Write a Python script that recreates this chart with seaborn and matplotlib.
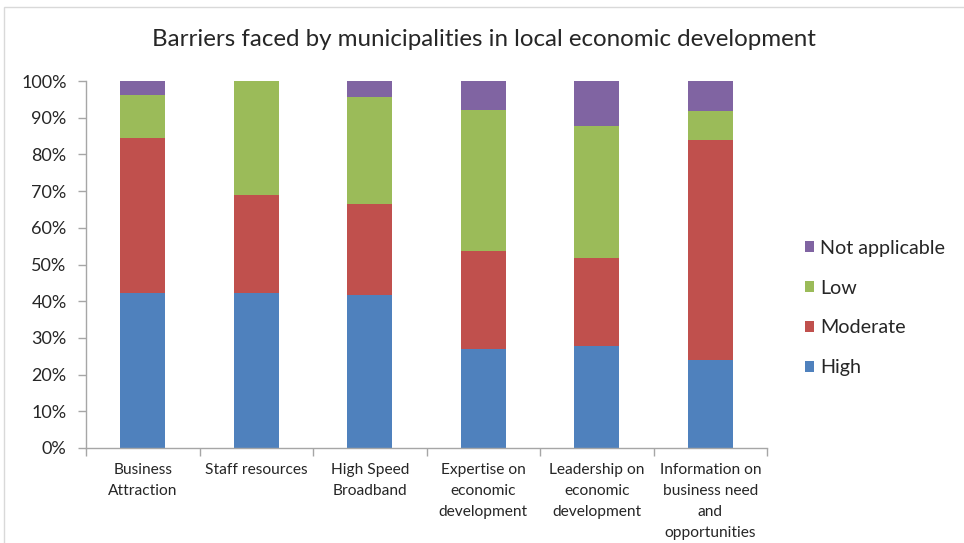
import numpy as np
import pandas as pd
import matplotlib
matplotlib.use("Agg")
import matplotlib.pyplot as plt
from matplotlib.patches import Patch, Rectangle
from matplotlib.ticker import PercentFormatter, FixedLocator
import seaborn as sns

categories = ["Business\nAttraction", "Staff resources", "High Speed\nBroadband",
              "Expertise on\neconomic\ndevelopment", "Leadership on\neconomic\ndevelopment",
              "Information on\nbusiness need\nand\nopportunities"]
high = [42.3, 42.3, 41.6, 26.9, 27.9, 24.0]
moderate = [42.1, 26.6, 24.8, 26.8, 23.8, 59.9]
low = [11.7, 31.1, 29.3, 38.4, 36.1, 7.9]
not_applicable = [3.9, 0.0, 4.3, 7.9, 12.2, 8.2]
series_names = ["High", "Moderate", "Low", "Not applicable"]
colors = ["#4F81BD", "#C0504D", "#9BBB59", "#8064A2"]
title = "Barriers faced by municipalities in local economic development"

sns.set_theme(style="white")
plt.rcParams["font.family"] = ["Lato", "DejaVu Sans"]

fig = plt.figure(figsize=(9.64, 5.43), dpi=100)
W, H = 964, 543
ax = fig.add_axes([86 / W, 1 - 448 / H, (767 - 86) / W, (448 - 81) / H])

series = [high, moderate, low, not_applicable]
cum = np.cumsum(np.array(series), axis=0)
df = pd.DataFrame({"category": categories})
# draw tallest cumulative first so lower segments overlay
for i in range(len(series) - 1, -1, -1):
    df["val"] = cum[i]
    sns.barplot(data=df, x="category", y="val", color=colors[i], saturation=1,
                width=0.4, linewidth=0, ax=ax, order=categories)

ax.set_xlim(-0.5, len(categories) - 0.5)
ax.set_ylim(0, 100)
ax.set_xlabel("")
ax.set_ylabel("")
ax.yaxis.set_major_locator(FixedLocator(np.arange(0, 101, 10)))
ax.yaxis.set_major_formatter(PercentFormatter(decimals=0))
for s in ["top", "right"]:
    ax.spines[s].set_visible(False)
for s in ["left", "bottom"]:
    ax.spines[s].set_color("#A6A6A6")
    ax.spines[s].set_linewidth(1)

ax.tick_params(axis="y", which="major", left=True, length=6, width=1, color="#A6A6A6",
               labelsize=13, labelcolor="#262626", pad=8)
ax.set_xticks(range(len(categories)))
ax.set_xticklabels(categories, fontsize=11.2, color="#262626", linespacing=1.64,
                   va="top", ha="center")
ax.tick_params(axis="x", which="major", length=0, pad=11)
ax.xaxis.set_minor_locator(FixedLocator(np.arange(-0.5, len(categories), 1.0)))
ax.tick_params(axis="x", which="minor", bottom=True, length=6, width=1, color="#A6A6A6")

fig.text(484 / W, 1 - 40 / H, title, ha="center", va="center", fontsize=17.4, color="#262626")

handles = [Patch(facecolor=colors[i], edgecolor="none", label=series_names[i])
           for i in range(len(series_names) - 1, -1, -1)]
fig.legend(handles=handles, loc="center left", bbox_to_anchor=(805 / W, 1 - 308 / H),
           frameon=False, fontsize=14.2, handlelength=0.45, handleheight=0.45,
           handletextpad=0.3, labelspacing=1.16, borderpad=0, borderaxespad=0,
           labelcolor="#262626")

fig.patches.append(Rectangle((4 / W, -0.1), 1.2, 1 - 7 / H + 0.1, transform=fig.transFigure,
                             fill=False, edgecolor="#D9D9D9", linewidth=1))

fig.savefig("out.png", dpi=100)
